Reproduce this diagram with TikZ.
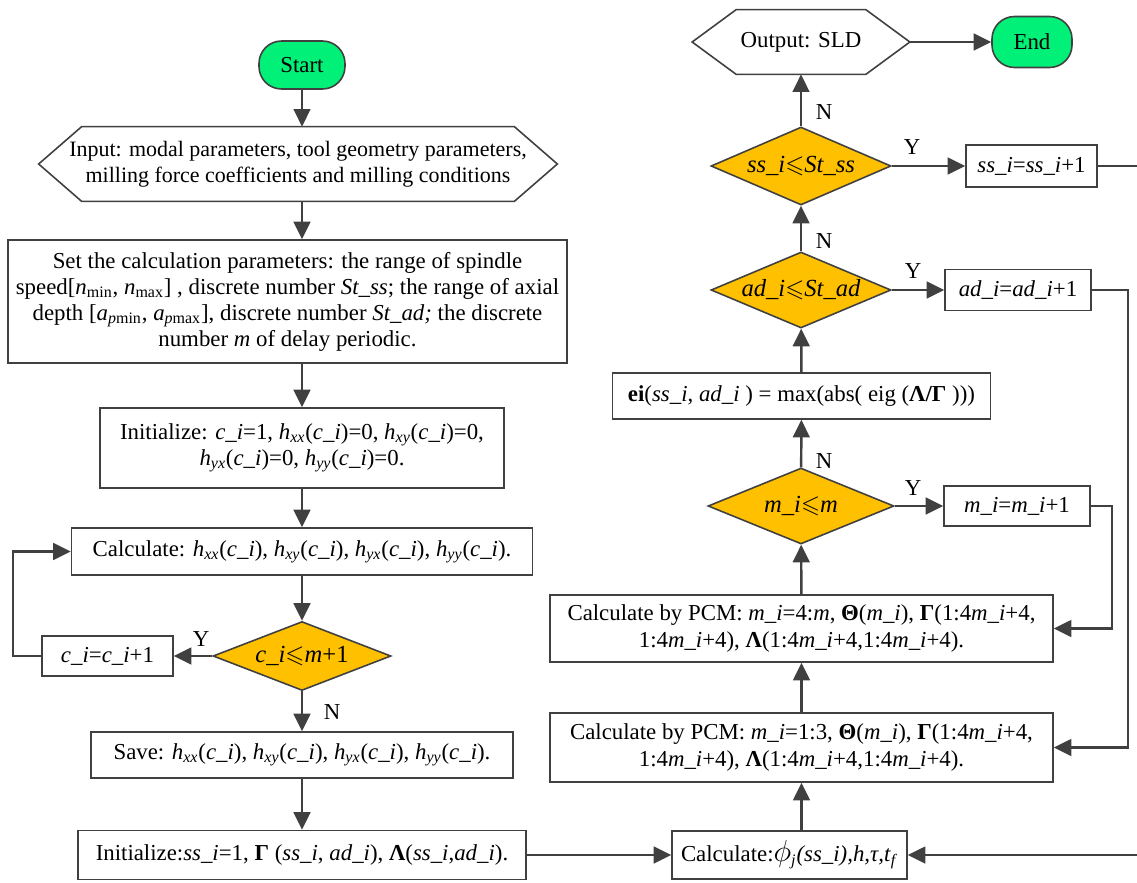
\documentclass[tikz,border=0pt]{standalone}
\usepackage{fontspec}
\setmainfont{Liberation Serif}
\usepackage{amssymb}
\usetikzlibrary{shapes.geometric,arrows.meta}
\definecolor{termgreen}{RGB}{0,240,120}
\definecolor{decisionfill}{RGB}{255,192,0}
\definecolor{linegray}{RGB}{64,64,64}
\newcommand{\hsub}[1]{\textit{h}\textsubscript{\textit{#1}}}
\newcommand{\cidx}{\textit{c\_i}}
\newcommand{\midx}{\textit{m\_i}}
\newcommand{\ssidx}{\textit{ss\_i}}
\newcommand{\adidx}{\textit{ad\_i}}
\begin{document}
\begin{tikzpicture}[x=0.2mm,y=-0.2mm,
  font=\fontsize{13}{14.8}\selectfont,
  sz/.style 2 args={minimum width=#1*0.2mm,minimum height=#2*0.2mm},
  boxline/.style={draw=linegray,line width=0.9pt},
  proc/.style={boxline,rectangle,inner sep=0pt,align=center},
  term/.style={boxline,rectangle,rounded corners=4.5mm,fill=termgreen,inner sep=0pt},
  decide/.style={boxline,diamond,aspect=2.4,fill=decisionfill,inner sep=0pt,font=\fontsize{14}{16}\selectfont},
  hexa/.style={rectangle,inner sep=0pt,align=center},
  arr/.style={draw=linegray,line width=1.4pt,-{Triangle[length=10pt,width=9.5pt]}},
  wire/.style={draw=linegray,line width=1.4pt},
  yn/.style={inner sep=0pt}]
  \useasboundingbox (0,0) rectangle (1137,883);
  % left column
  \node[term,sz={86}{48}] (start) at (302,65) {Start};
  \node[hexa,sz={518}{74},font=\fontsize{12.5}{14.8}\selectfont] (input) at (298,164)
    {Input: modal parameters, tool geometry parameters,\\ milling force coefficients and milling conditions};
  \draw[boxline] (input.west) -- ([xshift=8.6mm]input.north west) -- ([xshift=-8.6mm]input.north east)
    -- (input.east) -- ([xshift=-8.6mm]input.south east) -- ([xshift=8.6mm]input.south west) -- cycle;
  \node[proc,sz={559}{123}] (param) at (287.5,301.5)
    {Set the calculation parameters: the range of spindle\\
     speed[\textit{n}\textsubscript{min}, \textit{n}\textsubscript{max}] , discrete number \textit{St\_ss}; the range of axial\\
     depth [\textit{a}\textsubscript{\textit{p}min}, \textit{a}\textsubscript{\textit{p}max}], discrete number \textit{St\_ad;} the discrete\\
     number \textit{m} of delay periodic.};
  \node[proc,sz={404}{80}] (init) at (302,448)
    {Initialize: \cidx=1, \hsub{xx}(\cidx)=0, \hsub{xy}(\cidx)=0,\\ \hsub{yx}(\cidx)=0, \hsub{yy}(\cidx)=0.};
  \node[proc,sz={461}{47}] (calc) at (302,551.5)
    {Calculate: \hsub{xx}(\cidx), \hsub{xy}(\cidx), \hsub{yx}(\cidx), \hsub{yy}(\cidx).};
  \node[decide,sz={178}{69}] (cdia) at (302,656) {\cidx$\leqslant$\textit{m}+1};
  \node[proc,sz={131}{40}] (cinc) at (107.5,656) {\cidx=\cidx+1};
  \node[proc,sz={422}{46}] (save) at (302,755)
    {Save: \hsub{xx}(\cidx), \hsub{xy}(\cidx), \hsub{yx}(\cidx), \hsub{yy}(\cidx).};
  \node[proc,sz={448}{49}] (initss) at (302,855)
    {Initialize:\ssidx=1, \textbf{Γ} (\ssidx, \adidx), \textbf{Λ}(\ssidx,\adidx).};
  % right column
  \node[proc,sz={235}{48}] (phi) at (789.5,855)
    {Calculate:{\fontsize{16}{16}\selectfont$\phi$}\textsubscript{\textit{j}}\textit{(ss\_i),h,τ,t}\textsubscript{\textit{f}}};
  \node[proc,sz={503}{69}] (pcmA) at (801.5,747.5)
    {Calculate by PCM: \midx=1:3, \textbf{Θ}(\midx), \textbf{Γ}(1:4\midx+4,\\ 1:4\midx+4), \textbf{Λ}(1:4\midx+4,1:4\midx+4).};
  \node[proc,sz={503}{67}] (pcmB) at (801.5,628.5)
    {Calculate by PCM: \midx=4:\textit{m}, \textbf{Θ}(\midx), \textbf{Γ}(1:4\midx+4,\\ 1:4\midx+4), \textbf{Λ}(1:4\midx+4,1:4\midx+4).};
  \node[decide,sz={186}{76}] (mdia) at (801,506) {\midx$\leqslant$\textit{m}};
  \node[proc,sz={146}{40}] (minc) at (1017,506) {\midx=\midx+1};
  \node[proc,sz={378}{46}] (eig) at (801.5,396)
    {\textbf{ei}(\ssidx, \adidx\ ) = max(abs( eig (\textbf{Λ/Γ} )))};
  \node[decide,sz={180}{76}] (addia) at (801,290) {\adidx$\leqslant$\textit{St\_ad}};
  \node[proc,sz={146}{41}] (adinc) at (1018,290) {\adidx=\adidx+1};
  \node[decide,sz={180}{78}] (ssdia) at (801,166) {\ssidx$\leqslant$\textit{St\_ss}};
  \node[proc,sz={131}{42}] (ssinc) at (1031.5,166) {\ssidx=\ssidx+1};
  \node[hexa,sz={217}{64}] (out) at (801,42) {Output: SLD};
  \draw[boxline] (out.west) -- ([xshift=8.8mm]out.north west) -- ([xshift=-8.8mm]out.north east)
    -- (out.east) -- ([xshift=-8.8mm]out.south east) -- ([xshift=8.8mm]out.south west) -- cycle;
  \node[term,sz={80}{51}] (stop) at (1032,42) {End};
  \coordinate (edgeA) at (1137,166);
  \coordinate (edgeB) at (1137,855);
  % Y / N labels
  \node[yn] (yc) at (201,639) {Y};
  \node[yn] (nc) at (332,712) {N};
  \node[yn] (nss) at (824,112) {N};
  \node[yn] (yss) at (912,147) {Y};
  \node[yn] (nad) at (824,241) {N};
  \node[yn] (yad) at (913,271) {Y};
  \node[yn] (nm) at (824,461) {N};
  \node[yn] (ym) at (913,488) {Y};
  % connectors
  \draw[arr] (start) -- (start |- input.north);
  \draw[arr] (input.south -| start) -- (start |- param.north);
  \draw[arr] (param.south -| start) -- (init);
  \draw[arr] (init) -- (calc);
  \draw[arr] (calc) -- (cdia);
  \draw[arr] (cdia) -- (cinc);
  \draw[arr] (cinc.west) -- ++(-28,0) |- (calc.west);
  \draw[arr] (cdia) -- (save);
  \draw[arr] (save) -- (initss);
  \draw[arr] (initss) -- (phi);
  \draw[arr] (edgeB) -- (phi);
  \draw[arr] (phi.north -| pcmA) -- (pcmA);
  \draw[arr] (pcmA) -- (pcmB);
  \draw[arr] (pcmB) -- (mdia);
  \draw[arr] (mdia) -- (minc);
  \draw[arr] (minc.east) -- ++(21,0) |- (pcmB.east);
  \draw[arr] (mdia) -- (eig);
  \draw[arr] (eig) -- (addia);
  \draw[arr] (addia) -- (adinc);
  \draw[arr] (adinc.east) -- ++(36,0) |- (pcmA.east);
  \draw[arr] (addia) -- (ssdia);
  \draw[arr] (ssdia) -- (ssinc);
  \draw[wire] (ssinc) -- (edgeA);
  \draw[arr] (ssdia) -- (out);
  \draw[arr] (out) -- (stop);
\end{tikzpicture}
\end{document}
